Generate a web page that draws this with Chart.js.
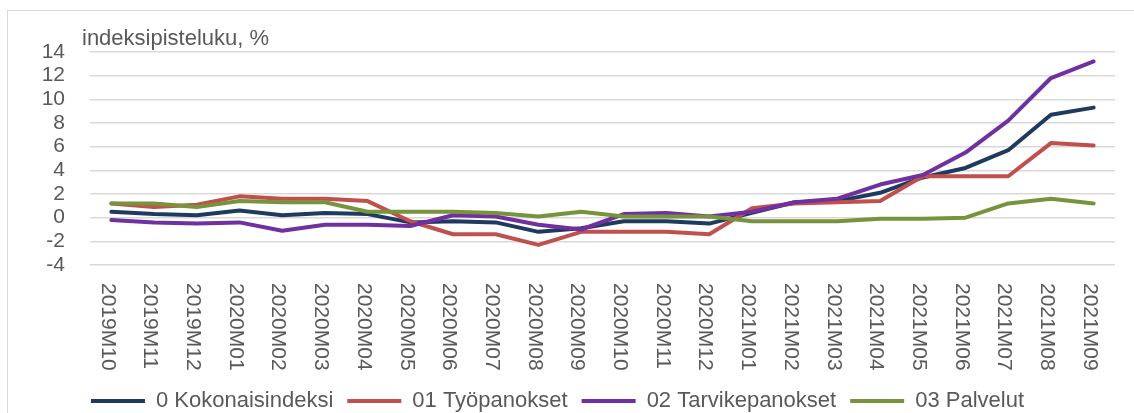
<!DOCTYPE html>
<html lang="fi">
<head>
<meta charset="utf-8">
<title>indeksipisteluku</title>
<script src="https://cdn.jsdelivr.net/npm/chart.js@4.4.1/dist/chart.umd.min.js"></script>
<style>
    html, body { margin: 0; padding: 0; background: #ffffff; overflow: hidden; }
    body { width: 1134px; height: 413px; position: relative; }
    #kehys {
        position: absolute; left: 7px; top: 10px;
        width: 1200px; height: 500px;
        border: 1px solid #d9d9d9;
    }
    #kaavio { position: absolute; left: 0; top: 0; }
</style>
</head>
<body>
<div id="kehys"></div>
<canvas id="kaavio" width="1134" height="422"></canvas>
<script>
const kuukaudet = [
    '2019M10', '2019M11', '2019M12',
    '2020M01', '2020M02', '2020M03', '2020M04', '2020M05', '2020M06',
    '2020M07', '2020M08', '2020M09', '2020M10', '2020M11', '2020M12',
    '2021M01', '2021M02', '2021M03', '2021M04', '2021M05', '2021M06',
    '2021M07', '2021M08', '2021M09'
];

const kokonaisindeksi = [0.5, 0.3, 0.2, 0.6, 0.2, 0.4, 0.3, -0.4, -0.3, -0.4, -1.2, -0.9, -0.3, -0.3, -0.5, 0.4, 1.3, 1.4, 2.1, 3.4, 4.2, 5.7, 8.7, 9.3];
const tyopanokset = [1.2, 0.9, 1.1, 1.8, 1.6, 1.6, 1.4, -0.3, -1.4, -1.4, -2.3, -1.2, -1.2, -1.2, -1.4, 0.8, 1.2, 1.3, 1.4, 3.5, 3.5, 3.5, 6.3, 6.1];
const tarvikepanokset = [-0.2, -0.4, -0.5, -0.4, -1.1, -0.6, -0.6, -0.7, 0.2, 0.1, -0.6, -1.0, 0.3, 0.4, 0.1, 0.5, 1.3, 1.6, 2.8, 3.6, 5.5, 8.2, 11.8, 13.2];
const palvelut = [1.2, 1.2, 0.9, 1.4, 1.3, 1.3, 0.5, 0.5, 0.5, 0.4, 0.1, 0.5, 0.1, 0.1, 0.1, -0.3, -0.3, -0.3, -0.1, -0.1, 0.0, 1.2, 1.6, 1.2];

const sarjat = ['0 Kokonaisindeksi', '01 Työpanokset', '02 Tarvikepanokset', '03 Palvelut'];
const varit = ['#1f3a5f', '#c0504d', '#7030a0', '#77933c'];

const akselinOtsikko = 'indeksipisteluku, %';
const yMin = -4;
const yMax = 14;
const yAskel = 2;

const tekstinVari = '#595959';
const fontti = '"Liberation Sans", Arial, sans-serif';

function sarja(i, arvot) {
    return {
        label: sarjat[i],
        data: arvot,
        borderColor: varit[i],
        backgroundColor: varit[i],
        borderWidth: 4,
        borderCapStyle: 'round',
        borderJoinStyle: 'round',
        pointRadius: 0,
        tension: 0,
        order: 4 - i // viimeinen sarja päällimmäiseksi kuten Excelissä
    };
}

// y-akselin otsikko ja pystyyn käännetyt kuukausi-labelit
const tekstit = {
    id: 'tekstit',
    afterDraw(chart) {
        const ctx = chart.ctx;
        const x = chart.scales.x;
        ctx.save();
        ctx.fillStyle = tekstinVari;
        ctx.font = '22px ' + fontti;
        ctx.textAlign = 'left';
        ctx.textBaseline = 'alphabetic';
        ctx.fillText(akselinOtsikko, 82, 45);

        ctx.font = '21px ' + fontti;
        ctx.textBaseline = 'middle';
        kuukaudet.forEach((kk, i) => {
            ctx.save();
            ctx.translate(x.getPixelForTick(i) - 4, 283);
            ctx.rotate(Math.PI / 2);
            ctx.fillText(kk, 0, 0);
            ctx.restore();
        });
        ctx.restore();
    }
};

const ctx = document.getElementById('kaavio').getContext('2d');
new Chart(ctx, {
    type: 'line',
    data: {
        labels: kuukaudet,
        datasets: [
            sarja(0, kokonaisindeksi),
            sarja(1, tyopanokset),
            sarja(2, tarvikepanokset),
            sarja(3, palvelut)
        ]
    },
    options: {
        responsive: false,
        animation: false,
        devicePixelRatio: 1,
        layout: {
            padding: { top: 52, right: 19, left: 0, bottom: 0 }
        },
        scales: {
            x: {
                offset: true,
                grid: { display: false },
                border: { display: false },
                ticks: { display: false },
                afterFit(scale) { scale.height = 111; }
            },
            y: {
                min: yMin,
                max: yMax,
                ticks: {
                    stepSize: yAskel,
                    autoSkip: false,
                    color: tekstinVari,
                    padding: 25,
                    font: { family: fontti, size: 21 }
                },
                grid: { color: '#d9d9d9', lineWidth: 1.5, drawTicks: false },
                border: { display: false },
                afterFit(scale) { scale.width = 90; }
            }
        },
        plugins: {
            legend: {
                position: 'bottom',
                labels: {
                    boxWidth: 54,
                    boxHeight: 4,
                    padding: 14,
                    color: tekstinVari,
                    font: { family: fontti, size: 22 },
                    sort: (a, b) => a.datasetIndex - b.datasetIndex,
                    generateLabels(chart) {
                        return Chart.defaults.plugins.legend.labels.generateLabels(chart)
                            .map(l => Object.assign(l, { lineWidth: 0 }));
                    }
                }
            },
            tooltip: { enabled: false },
            title: { display: false }
        }
    },
    plugins: [tekstit]
});
</script>
</body>
</html>
